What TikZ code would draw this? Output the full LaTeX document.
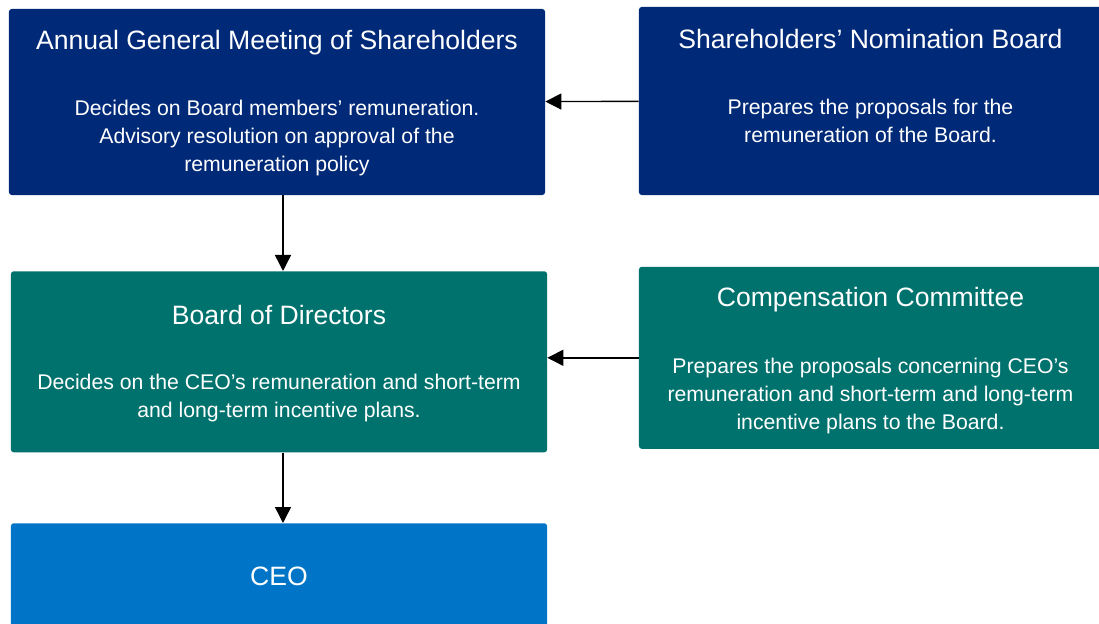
\documentclass[tikz,border=0pt]{standalone}
\usepackage{fontspec}
\setmainfont{Liberation Sans}
\usetikzlibrary{arrows.meta}
\definecolor{navyb}{HTML}{002A78}
\definecolor{tealb}{HTML}{00726E}
\definecolor{blueb}{HTML}{0075C7}
\tikzset{
    box/.style = {rectangle, rounded corners=2pt, inner sep=0pt},
    boxn/.style = {box, fill=navyb},
    boxt/.style = {box, fill=tealb},
    boxb/.style = {box, fill=blueb},
    ttl/.style = {anchor=base, text=white, inner sep=0pt, font=\fontsize{18.9}{22}\selectfont},
    txt/.style = {anchor=base, text=white, inner sep=0pt, align=center, font=\fontsize{15.1}{19.9}\selectfont}, % base = last line
    edgen/.style = {-{Triangle[length=0.4cm,width=0.4cm]}, line width=1pt, black},
}

\begin{document}
\begin{tikzpicture}[x=0.025cm, y=-0.025cm]
  \useasboundingbox (0,0) rectangle (1099,624);

  % boxes
  \node[boxn, minimum width=13.4cm, minimum height=4.65cm] at (277,102) (agm) {};
  \node[boxn, minimum width=11.575cm, minimum height=4.7cm] at (870.5,101) (snb) {};
  \node[boxt, minimum width=13.4cm, minimum height=4.525cm] at (279,361.8) (bod) {};
  \node[boxt, minimum width=11.575cm, minimum height=4.55cm] at (870.5,357.8) (comp) {};
  \node[boxb, minimum width=13.4cm, minimum height=2.62cm] at (279,575.7) (ceo) {};

  % texts
  \node[ttl] at (277,50) (agmt) {Annual General Meeting of Shareholders};
  \node[txt] at (277,171.7) (agmx) {Decides on Board members’ remuneration.\\Advisory resolution on approval of the\\remuneration policy};
  \node[ttl] at (870.5,49) (snbt) {Shareholders’ Nomination Board};
  \node[txt] at (870.5,142.7) (snbx) {Prepares the proposals for the\\remuneration of the Board.};
  \node[ttl] at (279,324) (bodt) {Board of Directors};
  \node[txt] at (279,417.7) (bodx) {Decides on the CEO’s remuneration and short-term\\and long-term incentive plans.};
  \node[ttl] at (870.5,306.7) (compt) {Compensation Committee};
  \node[txt] at (870.5,429) (compx) {Prepares the proposals concerning CEO’s\\remuneration and short-term and long-term\\incentive plans to the Board.};
  \node[ttl] at (279,585) (ceot) {CEO};

  % arrows
  \draw[edgen] (snb) -- (agm);
  \draw[edgen] (comp.west) -- (comp.west -| bod.east);
  \draw[edgen] ([xshift=0.1cm]bod.north |- agm.south) -- ([xshift=0.1cm]bod.north);
  \draw[edgen] ([xshift=0.1cm]bod.south) -- ([xshift=0.1cm]ceo.north);
\end{tikzpicture}
\end{document}
